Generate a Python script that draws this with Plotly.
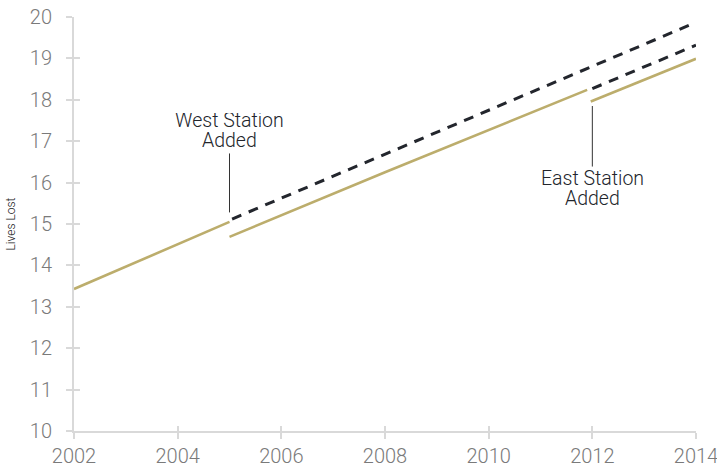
import plotly.graph_objects as go

# Data
gold1_x = [2002, 2005]
gold1_y = [13.43, 15.05]
gold2_x = [2005, 2008, 2011.9]
gold2_y = [14.69, 16.25, 18.24]
gold3_x = [2011.97, 2014]
gold3_y = [17.96, 18.99]
dash1_x = [2005.05, 2014]
dash1_y = [15.12, 19.87]
dash2_x = [2012, 2014]
dash2_y = [18.27, 19.32]

x_ticks = [2002, 2004, 2006, 2008, 2010, 2012, 2014]
y_ticks = [10, 11, 12, 13, 14, 15, 16, 17, 18, 19, 20]

GOLD = "#bcad6c"
DARK = "#23262d"
AX = "#d9d9d9"
FONT = "Roboto"

fig = go.Figure()
for xs, ys in [(gold1_x, gold1_y), (gold2_x, gold2_y), (gold3_x, gold3_y)]:
    fig.add_trace(go.Scatter(x=xs, y=ys, mode="lines",
                             line=dict(color=GOLD, width=2.6), hoverinfo="skip"))
for xs, ys in [(dash1_x, dash1_y), (dash2_x, dash2_y)]:
    fig.add_trace(go.Scatter(x=xs, y=ys, mode="lines",
                             line=dict(color=DARK, width=3, dash="10px,8px"), hoverinfo="skip"))
# invisible trace for overlay axes (crossing ticks)
fig.add_trace(go.Scatter(x=[2002], y=[10], xaxis="x2", yaxis="y2", mode="markers",
                         marker=dict(opacity=0), hoverinfo="skip"))

annfont = dict(family=FONT, size=19.5, color="#22252b", weight=300)
# West station: arrow annotation carries the lower line, upper line shifted above
fig.add_annotation(x=2005, y=15.28, ax=2005, ay=17.03, axref="x", ayref="y",
                   text="Added", showarrow=True, arrowhead=0,
                   arrowwidth=1, arrowcolor="#333", font=annfont,
                   standoff=0, borderpad=0, height=26)
fig.add_annotation(x=2005, y=17.03, text="West Station", showarrow=False,
                   font=annfont, yshift=20, borderpad=0, height=14)
# East station: arrow annotation carries the upper line, lower line shifted below
fig.add_annotation(x=2012, y=17.85, ax=2012, ay=16.11, axref="x", ayref="y",
                   text="East Station", showarrow=True, arrowhead=0,
                   arrowwidth=1, arrowcolor="#333", font=annfont,
                   standoff=0, borderpad=0, height=22)
fig.add_annotation(x=2012, y=16.11, text="Added", showarrow=False,
                   font=annfont, yshift=-20, borderpad=0, height=18)

tickfont = dict(family=FONT, size=20, color="#7a7a7a", weight=300)
fig.update_layout(
    width=717, height=467,
    margin=dict(l=74, r=21, t=17, b=36),
    paper_bgcolor="white", plot_bgcolor="white",
    showlegend=False,
    xaxis=dict(range=[2002, 2014], tickvals=x_ticks, ticktext=[str(v) for v in x_ticks],
               showgrid=False, zeroline=False, showline=True, linecolor=AX, linewidth=2,
               ticks="outside", ticklen=6, tickwidth=2, tickcolor=AX, automargin=False,
               tickfont=tickfont, ticklabelstandoff=0, ticklabeloverflow="allow"),
    yaxis=dict(range=[10, 20], tickvals=y_ticks, showgrid=False, zeroline=False,
               showline=True, linecolor=AX, linewidth=2, automargin=False,
               ticks="outside", ticklen=6, tickwidth=2, tickcolor=AX,
               tickfont=tickfont, ticklabelstandoff=10, ticklabeloverflow="allow",
               title=dict(text="Lives Lost", font=dict(family=FONT, size=12, color="#222", weight=300), standoff=12)),
    xaxis2=dict(range=[2002, 2014], tickvals=x_ticks[1:], overlaying="x", showticklabels=False,
                showgrid=False, zeroline=False, showline=False, automargin=False,
                ticks="inside", ticklen=5, tickwidth=2, tickcolor=AX),
    yaxis2=dict(range=[10, 20], tickvals=y_ticks[1:], overlaying="y", showticklabels=False,
                showgrid=False, zeroline=False, showline=False, automargin=False,
                ticks="inside", ticklen=6, tickwidth=2, tickcolor=AX),
)
fig.write_html("out.html", config={"displayModeBar": False},
               post_script="document.body.style.margin='0';")
